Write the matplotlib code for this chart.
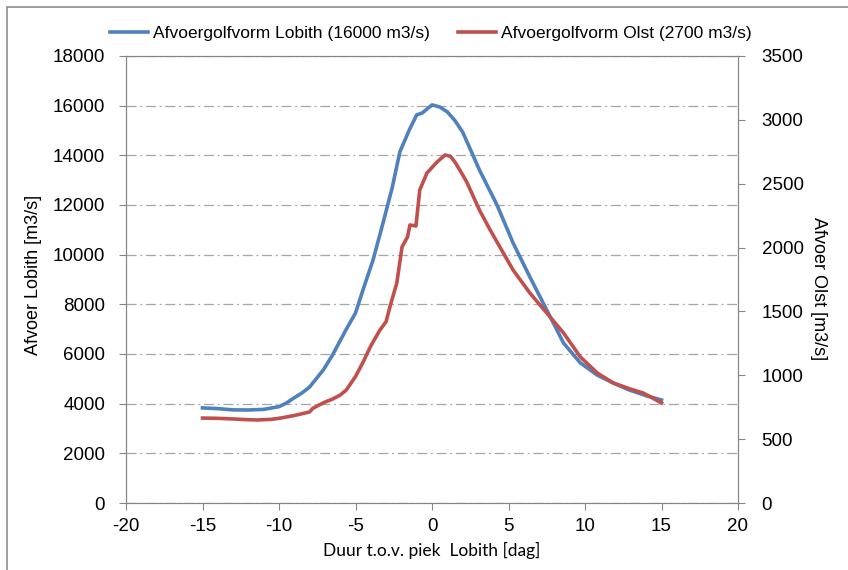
import numpy as np
import matplotlib
matplotlib.use('Agg')
import matplotlib.pyplot as plt
from matplotlib.patches import Rectangle

# Afvoergolfvorm Lobith (linker as)
t_lobith = [-15, -14, -13, -12, -11, -10, -9.5, -9.1, -8.5, -8.0, -7.1, -6.5, -5.6, -5.0, -4.5,
            -3.85, -3.2, -2.6, -2.1, -1.5, -1.0, -0.65, 0.0, 0.5, 1.0, 1.5, 2.0, 2.5,
            3.1, 4.25, 5.3, 6.4, 7.5, 8.6, 9.2, 9.7, 10.8, 11.85, 12.9, 14.05, 15.0]
q_lobith = [3830, 3800, 3750, 3745, 3770, 3880, 4030, 4200, 4430, 4670, 5360, 5960, 7000, 7650, 8600,
            9790, 11280, 12700, 14140, 15000, 15630, 15700, 16030, 15950, 15750, 15400, 14940, 14250,
            13410, 12000, 10470, 9100, 7770, 6440, 6000, 5640, 5150, 4830, 4550, 4310, 4150]

# Afvoergolfvorm Olst (rechter as)
t_olst = [-15, -14, -13, -12, -11.4, -10.5, -9.9, -9.0, -8.0, -7.8, -7.5, -7.0, -6.5, -6.0,
          -5.6, -5.0, -4.5, -4.0, -3.4, -3.0, -2.75, -2.3, -1.96, -1.6, -1.44, -1.05, -0.8,
          -0.33, 0.33, 0.85, 1.2, 1.5, 2.0, 2.3, 3.1, 3.8, 5.3, 6.4, 7.5, 8.6, 9.7, 10.8,
          11.85, 12.9, 13.8, 14.3, 15.0]
q_olst = [665, 663, 658, 652, 650, 655, 665, 685, 713, 740, 760, 790, 814, 845,
          885, 990, 1104, 1230, 1355, 1420, 1535, 1723, 2005, 2083, 2177, 2169, 2451,
          2584, 2670, 2725, 2715, 2670, 2570, 2506, 2294, 2138, 1824, 1644, 1488, 1331, 1143, 1018,
          940, 895, 861, 830, 783]

blauw = '#4F81BD'
rood = '#C0504D'
grijs = '#868686'

plt.rcParams['font.family'] = ['Liberation Sans', 'DejaVu Sans']
plt.rcParams['axes.unicode_minus'] = False

fig = plt.figure(figsize=(8.48, 5.70), dpi=100)
fig.patches.append(Rectangle((7 / 848, -0.1), 1.2, 1 - 7 / 570 + 0.1, transform=fig.transFigure,
                             fill=False, edgecolor='#8c8c8c', linewidth=1.2))

ax = fig.add_axes([126 / 848, 1 - 503 / 570, (738 - 126) / 848, (503 - 56) / 570])
ax2 = ax.twinx()

l1, = ax.plot(t_lobith, q_lobith, color=blauw, linewidth=2.6, label='Afvoergolfvorm Lobith (16000 m3/s)')
l2, = ax2.plot(t_olst, q_olst, color=rood, linewidth=2.6, label='Afvoergolfvorm Olst (2700 m3/s)')

ax.set_xlim(-20, 20)
ax.set_ylim(0, 18000)
ax2.set_ylim(0, 3500)
ax.set_xticks(np.arange(-20, 21, 5))
ax.set_yticks(np.arange(0, 18001, 2000))
ax2.set_yticks(np.arange(0, 3501, 500))

ax.grid(axis='y', color='#a6a6a6', linewidth=0.9, dashes=(8, 3, 1.5, 3))
ax.set_axisbelow(True)

for a in (ax, ax2):
    for s in a.spines.values():
        s.set_color(grijs)
    a.tick_params(colors=grijs, labelcolor='black', labelsize=13.5, length=5, width=0.8)
ax2.spines['top'].set_color(grijs)
ax.tick_params(axis='y', pad=10)
ax2.tick_params(axis='y', pad=12)
ax.tick_params(axis='x', pad=6)

ax.set_ylabel('Afvoer Lobith [m3/s]', fontsize=13)
ax.yaxis.set_label_coords(-0.137, 0.51)
ax2.set_ylabel('Afvoer Olst [m3/s]', fontsize=13, rotation=270, va='center')
ax2.yaxis.set_label_coords(1.131, 0.48)
ax.set_xlabel('Duur t.o.v. piek  Lobith [dag]', fontsize=12.5, family=['Lato', 'DejaVu Sans'], labelpad=5)

fig.legend([l1, l2], [l1.get_label(), l2.get_label()], loc='center', ncol=2,
           bbox_to_anchor=(0.508, 1 - 33 / 570), frameon=False, fontsize=12.5,
           handlelength=2.2, handletextpad=0.3, columnspacing=1.6)

fig.savefig('out.png', dpi=100)
